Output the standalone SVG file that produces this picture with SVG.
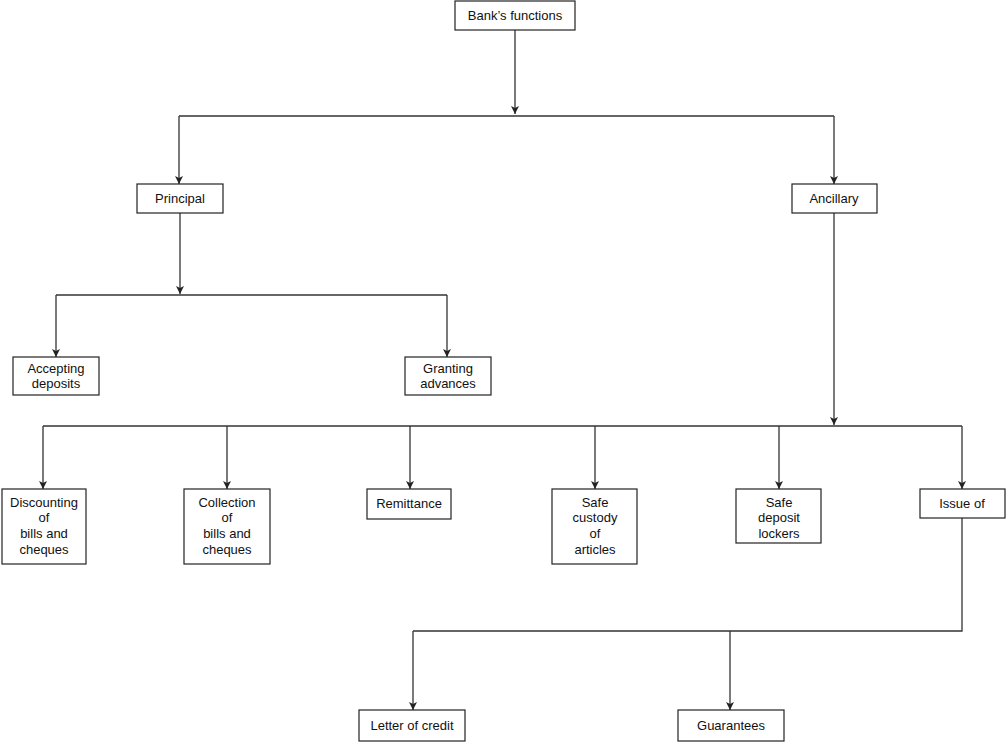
<svg xmlns="http://www.w3.org/2000/svg" width="1007" height="742" viewBox="0 0 1007 742">
<style>
.box{fill:#fff;stroke:#222;stroke-width:1.2}
.t{font-family:"Liberation Sans",Arial,sans-serif;font-size:13px;fill:#111;text-anchor:middle}
.c{fill:none;stroke:#333;stroke-width:1.3}
</style>
<defs>
<marker id="ah" viewBox="0 0 8 10" refX="8" refY="5" markerWidth="8" markerHeight="10" markerUnits="userSpaceOnUse" orient="auto">
<path d="M0,1 L8,5 L0,9 L2,5 Z" fill="#222"/>
</marker>
</defs>
<rect width="1007" height="742" fill="#fff"/>
<g id="connectors">
<path class="c" d="M515,30 V114" marker-end="url(#ah)"/>
<path class="c" d="M179,116 H834"/>
<path class="c" d="M179,116 V184" marker-end="url(#ah)"/>
<path class="c" d="M834,116 V184" marker-end="url(#ah)"/>
<path class="c" d="M180,213 V294" marker-end="url(#ah)"/>
<path class="c" d="M56,295 H447"/>
<path class="c" d="M56,295 V357" marker-end="url(#ah)"/>
<path class="c" d="M447,295 V357" marker-end="url(#ah)"/>
<path class="c" d="M834,213 V425" marker-end="url(#ah)"/>
<path class="c" d="M43,426 H962"/>
<path class="c" d="M43,426 V489" marker-end="url(#ah)"/>
<path class="c" d="M227,426 V489" marker-end="url(#ah)"/>
<path class="c" d="M410,426 V489" marker-end="url(#ah)"/>
<path class="c" d="M595,426 V489" marker-end="url(#ah)"/>
<path class="c" d="M779,426 V489" marker-end="url(#ah)"/>
<path class="c" d="M962,426 V489" marker-end="url(#ah)"/>
<path class="c" d="M962,518 V631 H413"/>
<path class="c" d="M413,631 V710" marker-end="url(#ah)"/>
<path class="c" d="M730,631 V710" marker-end="url(#ah)"/>
</g>
<g id="n-bank"><rect class="box" x="455" y="1" width="120" height="29"/><text class="t" x="515" y="20">Bank’s functions</text></g>
<g id="n-principal"><rect class="box" x="137" y="184" width="86" height="29"/><text class="t" x="180" y="203">Principal</text></g>
<g id="n-ancillary"><rect class="box" x="792" y="184" width="85" height="29"/><text class="t" x="834" y="203">Ancillary</text></g>
<g id="n-accepting"><rect class="box" x="13" y="357" width="86" height="38"/><text class="t" x="56" y="373">Accepting</text><text class="t" x="56" y="388">deposits</text></g>
<g id="n-granting"><rect class="box" x="405" y="357" width="86" height="38"/><text class="t" x="448" y="373">Granting</text><text class="t" x="448" y="388">advances</text></g>
<g id="n-discounting"><rect class="box" x="2" y="489" width="84" height="75"/><text class="t" x="44" y="507">Discounting</text><text class="t" x="44" y="522">of</text><text class="t" x="44" y="538">bills and</text><text class="t" x="44" y="554">cheques</text></g>
<g id="n-collection"><rect class="box" x="184" y="489" width="86" height="75"/><text class="t" x="227" y="507">Collection</text><text class="t" x="227" y="522">of</text><text class="t" x="227" y="538">bills and</text><text class="t" x="227" y="554">cheques</text></g>
<g id="n-remittance"><rect class="box" x="367" y="489" width="84" height="30"/><text class="t" x="409" y="508">Remittance</text></g>
<g id="n-custody"><rect class="box" x="552" y="489" width="85" height="75"/><text class="t" x="595" y="507">Safe</text><text class="t" x="595" y="522">custody</text><text class="t" x="595" y="538">of</text><text class="t" x="595" y="554">articles</text></g>
<g id="n-lockers"><rect class="box" x="736" y="489" width="85" height="54"/><text class="t" x="779" y="507">Safe</text><text class="t" x="779" y="522">deposit</text><text class="t" x="779" y="538">lockers</text></g>
<g id="n-issue"><rect class="box" x="920" y="489" width="85" height="29"/><text class="t" x="962" y="508">Issue of</text></g>
<g id="n-letter"><rect class="box" x="359" y="710" width="106" height="31"/><text class="t" x="412" y="730">Letter of credit</text></g>
<g id="n-guarantees"><rect class="box" x="678" y="710" width="106" height="31"/><text class="t" x="731" y="730">Guarantees</text></g>
</svg>
